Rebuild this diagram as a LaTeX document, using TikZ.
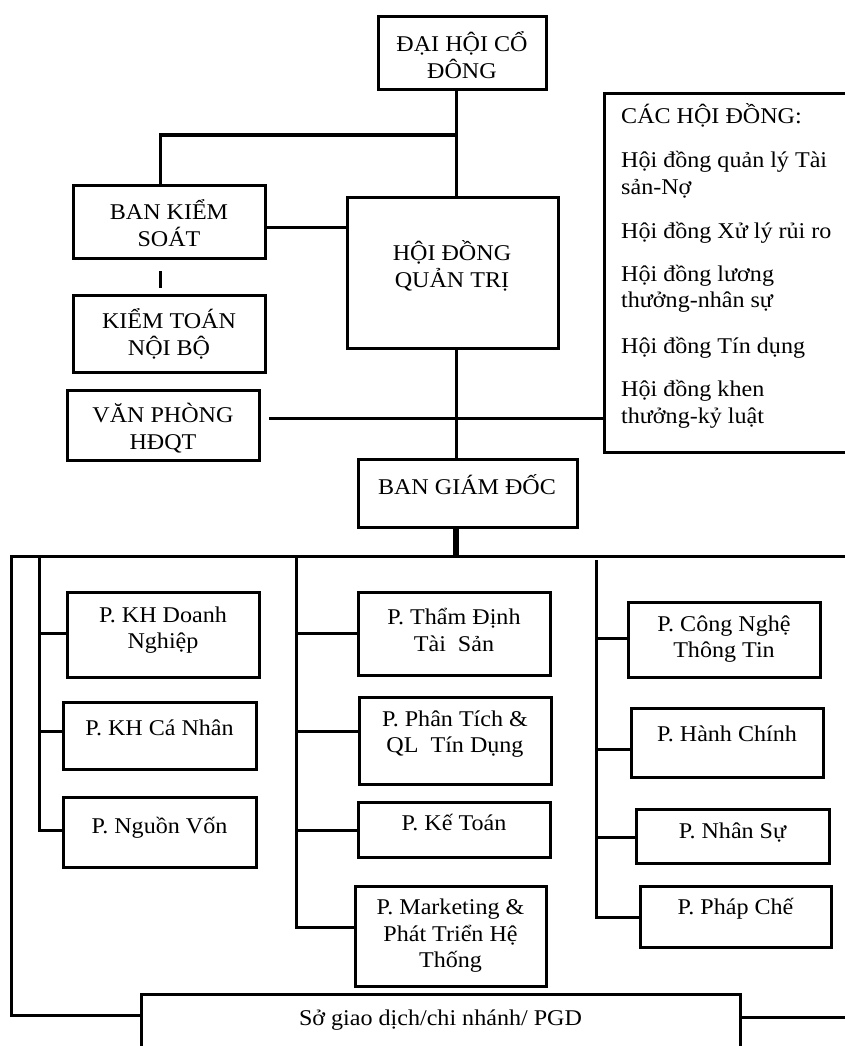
\documentclass[tikz,border=0pt]{standalone}
\usepackage{fontspec}
\setmainfont{Liberation Serif}[FakeStretch=1.07]
\begin{document}
\begin{tikzpicture}[x=1pt,y=-1pt,
  box/.style={draw,line width=3pt,inner sep=0pt},
  txt/.style={align=center,inner sep=0pt,font=\fontsize{22.5}{26.5}\selectfont},
  conn/.style={line width=3pt,line cap=rect}]
\useasboundingbox (0,0) rectangle (844,1046);
% ---------- top part ----------
\node[box,minimum width=168pt,minimum height=73pt] (dh) at (462,53.5) {};
\node[txt] (tdh) at (462,55) {ĐẠI HỘI CỔ\\ĐÔNG};
\node[box,minimum width=192pt,minimum height=73pt] (bks) at (169,221.5) {};
\node[txt] (tbks) at (169,223) {BAN KIỂM\\SOÁT};
\node[box,minimum width=211pt,minimum height=151pt] (hdqt) at (452.5,272.5) {};
\node[txt] (thdqt) at (452,266) {HỘI ĐỒNG\\QUẢN TRỊ};
\node[box,minimum width=192pt,minimum height=77pt] (ktnb) at (169,333.5) {};
\node[txt] (tktnb) at (169,334) {KIỂM TOÁN\\NỘI BỘ};
\node[box,minimum width=192pt,minimum height=70pt] (vp) at (163,425) {};
\node[txt] (tvp) at (163,428) {VĂN PHÒNG\\HĐQT};
\node[box,minimum width=246pt,minimum height=358pt] (chd) at (727,273) {};
\node[align=left,inner sep=0pt,anchor=north west,font=\fontsize{22.5}{26.5}\selectfont] (tchd) at (621,103)
 {CÁC HỘI ĐỒNG:\\[18pt]
  Hội đồng quản lý Tài\\sản-Nợ\\[18pt]
  Hội đồng Xử lý rủi ro\\[16pt]
  Hội đồng lương\\thưởng-nhân sự\\[19pt]
  Hội đồng Tín dụng\\[17pt]
  Hội đồng khen\\thưởng-kỷ luật};
\node[box,minimum width=219pt,minimum height=68pt] (bgd) at (467.5,493) {};
\node[txt] (tbgd) at (467,485) {BAN GIÁM ĐỐC};
% ---------- departments ----------
\node[box,minimum width=192pt,minimum height=85pt] (kh1) at (163,634.5) {};
\node[txt] (tkh1) at (163,630) {P. KH Doanh\\Nghiệp};
\node[box,minimum width=193pt,minimum height=67pt] (kh2) at (159.5,735.5) {};
\node[txt] (tkh2) at (159.5,728) {P. KH Cá Nhân};
\node[box,minimum width=193pt,minimum height=70pt] (kh3) at (159.5,832) {};
\node[txt] (tkh3) at (159.5,828) {P. Nguồn Vốn};
\node[box,minimum width=192pt,minimum height=83pt] (c21) at (454,633.5) {};
\node[txt] (tc21) at (454,630) {P. Thẩm Định\\Tài~ Sản};
\node[box,minimum width=192pt,minimum height=87pt] (c22) at (455,740.5) {};
\node[txt] (tc22) at (455,734) {P. Phân Tích \&\\QL~ Tín Dụng};
\node[box,minimum width=192pt,minimum height=55pt] (c23) at (454,829.5) {};
\node[txt] (tc23) at (454,823) {P. Kế Toán};
\node[box,minimum width=191pt,minimum height=100pt] (c24) at (450.5,936) {};
\node[txt] (tc24) at (450.5,936) {P. Marketing \&\\Phát Triển Hệ\\Thống};
\node[box,minimum width=192pt,minimum height=75pt] (c31) at (724,639.5) {};
\node[txt] (tc31) at (724,639) {P. Công Nghệ\\Thông Tin};
\node[box,minimum width=192pt,minimum height=69pt] (c32) at (727,742.5) {};
\node[txt] (tc32) at (727,734) {P. Hành Chính};
\node[box,minimum width=193pt,minimum height=54pt] (c33) at (732.5,836) {};
\node[txt] (tc33) at (732.5,833) {P. Nhân Sự};
\node[box,minimum width=191pt,minimum height=61pt] (c34) at (735.5,916.5) {};
\node[txt] (tc34) at (735.5,909) {P. Pháp Chế};
\node[box,minimum width=599pt,minimum height=70pt] (sgd) at (440.5,1029) {};
\node[txt] (tsgd) at (440.5,1020) {Sở giao dịch/chi nhánh/ PGD};
% ---------- junction coordinates ----------
\coordinate (j1) at (456,135);
\coordinate (j2) at (160,135);
\coordinate (d1) at (160,272);
\coordinate (d2) at (160,286);
\coordinate (vpl) at (270,418);
\coordinate (bus) at (456,556);
\coordinate (busL) at (11,556);
\coordinate (busR) at (844,556);
\coordinate (cornL) at (11,1015);
\coordinate (endR) at (844,1017);
\coordinate (v1t) at (39,556);
\coordinate (v1b) at (39,830);
\coordinate (v2t) at (296,556);
\coordinate (v2b) at (296,927);
\coordinate (v3t) at (596,561);
\coordinate (v3b) at (596,917);
% ---------- connectors ----------
\draw[conn] (dh.south -| j1) -- (hdqt.north -| j1);
\draw[conn] (j1) -- (j2) -- (bks.north -| j2);
\draw[conn] (bks.east |- 0,227) -- (hdqt.west |- 0,227);
\draw[conn] (d1) -- (d2);
\draw[conn] (vpl) -- (chd.west |- vpl);
\draw[conn] (hdqt.south -| j1) -- (bgd.north -| j1);
\draw[line width=6pt] (bgd.south -| j1) -- (bus);
\draw[conn] (busL) -- (busR);
\draw[conn] (busL) -- (cornL) -- (sgd.west |- cornL);
\draw[conn] (sgd.east |- endR) -- (endR);
% column 1
\draw[conn] (v1t) -- (v1b) -- (kh3.west |- v1b);
\draw[conn] (v1t |- 0,633) -- (kh1.west |- 0,633);
\draw[conn] (v1t |- 0,731) -- (kh2.west |- 0,731);
% column 2
\draw[conn] (v2t) -- (v2b) -- (c24.west |- v2b);
\draw[conn] (v2t |- 0,633) -- (c21.west |- 0,633);
\draw[conn] (v2t |- 0,731) -- (c22.west |- 0,731);
\draw[conn] (v2t |- 0,830) -- (c23.west |- 0,830);
% column 3
\draw[conn] (v3t) -- (v3b) -- (c34.west |- v3b);
\draw[conn] (v3t |- 0,638) -- (c31.west |- 0,638);
\draw[conn] (v3t |- 0,749) -- (c32.west |- 0,749);
\draw[conn] (v3t |- 0,837) -- (c33.west |- 0,837);
\end{tikzpicture}
\end{document}
